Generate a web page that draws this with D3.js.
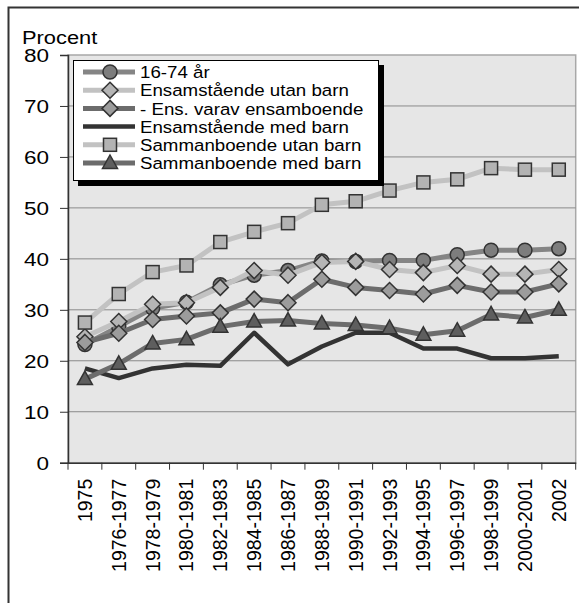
<!DOCTYPE html>
<html><head><meta charset="utf-8">
<script src="https://cdn.jsdelivr.net/npm/d3@7"></script>
<style>body{margin:0;background:#fff} svg{display:block} text{font-family:"Liberation Sans",Arial,sans-serif;fill:#000}</style>
</head><body><svg id="c" width="579" height="603"></svg>
<script>
const categories = ["1975","1976-1977","1978-1979","1980-1981","1982-1983","1984-1985","1986-1987","1988-1989","1990-1991","1992-1993","1994-1995","1996-1997","1998-1999","2000-2001","2002"];
const s1674     = [23.2,26.7,30.3,31.5,34.9,36.8,37.7,39.6,39.5,39.7,39.7,40.8,41.7,41.7,42.0];
const ensUtan   = [24.7,27.7,31.1,31.4,34.4,37.7,36.8,39.3,39.5,37.9,37.3,38.7,37.0,37.0,37.9];
const ensVarav  = [23.6,25.4,28.1,28.8,29.4,32.1,31.4,36.0,34.4,33.8,33.1,34.8,33.5,33.5,35.1];
const ensMed    = [18.5,16.6,18.5,19.2,19.0,25.5,19.3,22.8,25.5,25.5,22.4,22.4,20.5,20.5,20.9];
const samUtan   = [27.5,33.1,37.4,38.7,43.3,45.3,47.0,50.6,51.3,53.4,55.0,55.6,57.8,57.5,57.5];
const samMed    = [16.4,19.4,23.4,24.2,26.7,27.7,27.9,27.3,27.0,26.4,25.1,25.9,29.1,28.5,30.0];
const seriesNames = ["16-74 år","Ensamstående utan barn","- Ens. varav ensamboende","Ensamstående med barn","Sammanboende utan barn","Sammanboende med barn"];
const yTicks = [0,10,20,30,40,50,60,70,80];
const yTitle = "Procent";

const styles = [
  {line:"#858585", w:5, marker:"circle",   fill:"#7d7d7d"},
  {line:"#c2c2c2", w:5, marker:"diamond",  fill:"#b5b5b5"},
  {line:"#6c6c6c", w:5, marker:"diamond",  fill:"#9c9c9c"},
  {line:"#333333", w:4.5, marker:null,     fill:null},
  {line:"#c2c2c2", w:5, marker:"square",   fill:"#b3b3b3"},
  {line:"#6c6c6c", w:5, marker:"triangle", fill:"#5e5e5e"}
];
const data = [s1674, ensUtan, ensVarav, ensMed, samUtan, samMed];

const svg = d3.select("#c");
const L = 68, R = 575.7, T = 55, B = 462.7;
const x = d3.scaleBand().domain(categories).range([L, R]).padding(0);
const y = d3.scaleLinear().domain([0, 80]).range([B, T]);

// outer frame
svg.append("rect").attr("x",8.5).attr("y",7.5).attr("width",700).attr("height",700)
  .attr("fill","none").attr("stroke","#333").attr("stroke-width",2);

// plot bg
svg.append("rect").attr("x",L).attr("y",T).attr("width",R-L).attr("height",B-T)
  .attr("fill","#e6e6e6").attr("stroke","#a8a8a8").attr("stroke-width",1.5);

// grid
svg.append("g").selectAll("line").data(yTicks.filter(d=>d>0 && d<80)).join("line")
  .attr("x1",L).attr("x2",R).attr("y1",d=>y(d)).attr("y2",d=>y(d))
  .attr("stroke","#8a8a8a").attr("stroke-width",1);

// y axis
const ya = svg.append("g").attr("transform",`translate(${L},0)`)
  .call(d3.axisLeft(y).tickValues(yTicks).tickSize(8).tickPadding(11).tickFormat(d3.format("d")));
ya.select(".domain").attr("stroke","#333").attr("stroke-width",1.5);
ya.selectAll(".tick line").attr("stroke","#333");
ya.selectAll(".tick text").attr("font-size",18).attr("fill","#000")
  .attr("font-family","Liberation Sans, Arial, sans-serif")
  .attr("x",0).attr("dy","0.36em")
  .attr("transform","translate(-19,0) scale(1.25,1)");

// x axis
const xa = svg.append("g").attr("transform",`translate(0,${B})`)
  .call(d3.axisBottom(x).tickSize(0).tickFormat(d=>d));
xa.select(".domain").attr("stroke","#333").attr("stroke-width",1.5);
const bounds = categories.map(c=>x(c)).concat([x(categories[categories.length-1])+x.bandwidth()]);
svg.append("g").selectAll("line").data(bounds).join("line")
  .attr("x1",d=>d).attr("x2",d=>d).attr("y1",B).attr("y2",B+7)
  .attr("stroke","#333").attr("stroke-width",1);
xa.selectAll(".tick text")
  .attr("font-size",19.5).attr("fill","#000")
  .attr("font-family","Liberation Sans, Arial, sans-serif")
  .attr("text-anchor","end")
  .attr("transform","translate(7,16) rotate(-90)")
  .attr("x",0).attr("y",0).attr("dy",0);

// title
svg.append("text").attr("transform","translate(22,43.5) scale(1.15,1)").attr("font-size",19).text(yTitle);

// lines & markers
const lineGen = d3.line().x((d,i)=>x(categories[i])+x.bandwidth()/2).y(d=>y(d));
function marker(g, type, fill, cx, cy){
  let el;
  if(type==="circle") el = g.append("circle").attr("cx",cx).attr("cy",cy).attr("r",7);
  else if(type==="diamond") el = g.append("path").attr("d",`M${cx},${cy-8}L${cx+8},${cy}L${cx},${cy+8}L${cx-8},${cy}Z`);
  else if(type==="square") el = g.append("rect").attr("x",cx-6.5).attr("y",cy-6.5).attr("width",13).attr("height",13);
  else if(type==="triangle") el = g.append("path").attr("d",`M${cx},${cy-8}L${cx+7.5},${cy+5.5}L${cx-7.5},${cy+5.5}Z`);
  if(el) el.attr("fill",fill).attr("stroke","#333").attr("stroke-width",1.5);
}
data.forEach((vals,si)=>{
  const st = styles[si];
  const g = svg.append("g");
  g.append("path").datum(vals).attr("d",lineGen).attr("fill","none")
    .attr("stroke",st.line).attr("stroke-width",st.w).attr("stroke-linejoin","round");
  if(st.marker) vals.forEach((v,i)=>marker(g, st.marker, st.fill, x(categories[i])+x.bandwidth()/2, y(v)));
});

// legend
const lg = svg.append("g");
lg.append("rect").attr("x",78).attr("y",65).attr("width",306).attr("height",121).attr("fill","#000");
lg.append("rect").attr("x",73.5).attr("y",60.5).attr("width",305).attr("height",120).attr("fill","#fff").attr("stroke","#000").attr("stroke-width",1);
seriesNames.forEach((n,i)=>{
  const cy = 72 + i*18.2, st = styles[i];
  lg.append("line").attr("x1",83).attr("x2",135).attr("y1",cy).attr("y2",cy)
    .attr("stroke",st.line).attr("stroke-width",st.w);
  if(st.marker) marker(lg, st.marker, st.fill, 110, cy);
  lg.append("text").attr("transform",`translate(140,${cy}) scale(1.1,1)`)
    .attr("dy","0.36em").attr("font-size",17).text(n);
});
</script></body></html>
